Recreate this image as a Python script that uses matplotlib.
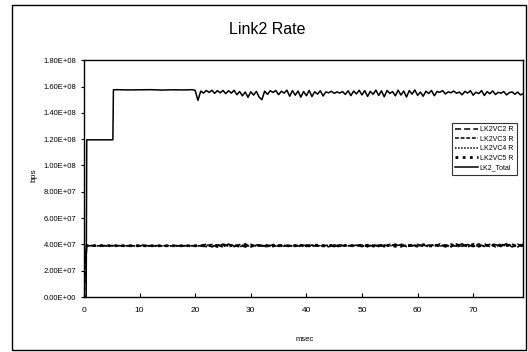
import numpy as np
import matplotlib
matplotlib.use('Agg')
import matplotlib.pyplot as plt
from matplotlib.patches import Rectangle

plt.rcParams['font.family'] = ['Liberation Sans', 'DejaVu Sans']

# ---- data (Mbps) ----
# LK2_Total, start-up part
tot_t_early = [0, 0.4, 0.5, 5.2, 5.3, 6, 8, 10, 12, 14, 16, 18, 19.5]
tot_v_early = [0, 0, 119.5, 119.5, 157.5, 157.6, 157.4, 157.5, 157.6, 157.3,
               157.5, 157.4, 157.6]
# LK2_Total, 20..79 msec every 0.5 msec
tot_t_noisy = np.arange(20.0, 79.01, 0.5)
tot_v_noisy = [
    157.0, 149.5, 156.5, 155.0, 157.0, 155.5, 157.2, 154.8, 156.9, 155.2,
    157.0, 154.6, 156.8, 155.0, 157.1, 153.8, 156.2, 152.9, 155.8, 151.8,
    156.0, 153.5, 156.3, 152.0, 150.0, 156.5, 154.0, 156.8, 155.5, 157.0,
    153.8, 156.4, 155.0, 157.2, 152.6, 156.9, 153.4, 156.6, 151.9, 156.2,
    153.0, 157.0, 152.4, 156.0, 154.2, 156.8, 152.8, 155.9, 155.2, 156.4,
    154.8, 155.9, 155.0, 156.2, 154.0, 156.8, 153.1, 156.5, 154.4, 157.1,
    153.6, 156.9, 152.5, 156.3, 154.1, 157.3, 153.2, 156.7, 152.2, 157.0,
    154.8, 156.1, 152.9, 157.2, 153.5, 156.6, 152.0, 156.9, 154.2, 157.4,
    153.3, 155.8, 152.6, 156.4, 154.7, 157.0, 153.0, 156.2, 155.6, 156.9,
    154.3, 156.0, 155.2, 156.6, 154.9, 155.8, 153.7, 156.3, 155.0, 156.8,
    153.4, 155.7, 154.6, 156.9, 153.2, 156.1, 154.5, 156.7, 153.9, 155.6,
    154.9, 156.2, 153.6, 155.4, 155.9, 154.1, 155.8, 153.6, 154.6,
]

# per-VC rates
vc_t_early = [0, 0.2, 0.5, 10.2, 10.5, 10.8, 20.0, 20.3, 20.6, 21.0]
vc2_early = [0, 26.0, 39.2, 39.1, 39.1, 39.1, 39.1, 39.1, 39.1, 39.2]
vc3_early = [0, 22.0, 39.0, 38.9, 39.9, 38.9, 38.9, 39.6, 38.9, 39.0]
vc4_early = [0, 18.0, 38.9, 39.0, 39.0, 39.0, 39.0, 39.0, 39.0, 38.9]
vc5_early = [0, 30.0, 39.1, 39.0, 39.0, 39.0, 39.0, 39.0, 39.0, 39.1]
vc_t_noisy = np.arange(22, 80)
vc2_noisy = [
    40.2, 38.1, 39.8, 37.9, 40.4, 38.3, 39.6, 38.0, 40.1, 38.6,
    39.4, 38.2, 39.9, 38.5, 39.2, 38.8, 39.5, 38.4, 39.7, 38.6,
    39.3, 38.7, 39.6, 38.3, 39.8, 38.5, 39.4, 38.9, 39.7, 38.2,
    40.0, 38.4, 39.5, 38.6, 40.3, 38.1, 39.9, 38.7, 40.2, 38.3,
    39.6, 38.5, 40.4, 38.2, 39.8, 38.6, 40.5, 38.0, 40.1, 38.4,
    40.6, 38.2, 39.9, 38.5, 40.7, 38.1, 40.2, 38.6]
vc3_noisy = [
    38.3, 40.0, 38.2, 40.3, 38.5, 39.9, 38.1, 40.2, 38.4, 39.7,
    38.6, 39.5, 38.3, 39.6, 38.7, 39.3, 38.5, 39.8, 38.4, 39.4,
    38.8, 39.6, 38.2, 39.7, 38.6, 39.2, 38.9, 39.5, 38.3, 39.9,
    38.5, 39.6, 38.2, 40.1, 38.7, 39.8, 38.4, 40.0, 38.6, 39.7,
    38.3, 40.2, 38.5, 39.9, 38.1, 40.4, 38.6, 40.0, 38.3, 40.5,
    38.4, 40.1, 38.2, 40.6, 38.5, 40.3, 38.1, 40.4]
vc4_noisy = [
    39.6, 38.7, 40.1, 38.4, 39.3, 38.9, 40.0, 38.5, 39.1, 39.2,
    38.8, 39.6, 38.9, 39.0, 39.4, 38.6, 39.2, 39.0, 38.9, 39.5,
    38.7, 39.1, 39.3, 38.8, 39.0, 39.4, 38.6, 39.3, 39.0, 38.8,
    39.5, 38.7, 39.4, 38.9, 39.2, 39.6, 38.5, 39.3, 38.8, 39.7,
    38.6, 39.4, 38.9, 39.8, 38.4, 39.5, 38.7, 39.9, 38.5, 39.6,
    38.8, 40.0, 38.3, 39.7, 38.9, 40.1, 38.4, 39.8]
vc5_noisy = [
    38.9, 39.5, 38.6, 39.8, 38.8, 39.4, 38.7, 39.9, 38.6, 39.5,
    39.0, 38.8, 39.4, 38.9, 39.6, 38.7, 39.1, 39.3, 38.8, 39.2,
    39.4, 38.9, 39.0, 39.5, 38.7, 39.3, 39.1, 38.8, 39.6, 39.0,
    38.8, 39.5, 38.9, 39.4, 38.6, 39.7, 38.9, 39.5, 38.7, 39.8,
    39.0, 38.7, 39.6, 38.8, 39.9, 38.6, 39.7, 38.9, 40.0, 38.7,
    39.8, 38.6, 40.1, 38.9, 39.7, 38.5, 40.0, 38.8]

series_names = ['LK2VC2 R', 'LK2VC3 R', 'LK2VC4 R', 'LK2VC5 R', 'LK2_Total']
y_ticks = [0, 2e7, 4e7, 6e7, 8e7, 1e8, 1.2e8, 1.4e8, 1.6e8, 1.8e8]
y_ticklabels = ['0.00E+00', '2.00E+07', '4.00E+07', '6.00E+07', '8.00E+07',
                '1.00E+08', '1.20E+08', '1.40E+08', '1.60E+08', '1.80E+08']
x_ticks = [0, 10, 20, 30, 40, 50, 60, 70]

MB = 1e6

fig = plt.figure(figsize=(5.28, 3.52), dpi=100)
ax = fig.add_axes((0.159, 0.156, 0.832, 0.673))

styles = [dict(ls=(0, (4, 2)), lw=1.1),
          dict(ls=(0, (2.5, 1.2)), lw=1.1),
          dict(ls=(0, (1, 1)), lw=1.1),
          dict(ls=(0, (1, 1.6)), lw=2.0),
          dict(ls='-', lw=1.1)]

vc_early = [vc2_early, vc3_early, vc4_early, vc5_early]
vc_noisy = [vc2_noisy, vc3_noisy, vc4_noisy, vc5_noisy]
for name, early, noisy, st in zip(series_names[:4], vc_early, vc_noisy, styles[:4]):
    t = np.concatenate([vc_t_early, vc_t_noisy])
    v = np.concatenate([early, noisy]) * MB
    ax.plot(t, v, color='black', label=name, **st)

t = np.concatenate([tot_t_early, tot_t_noisy])
v = np.concatenate([tot_v_early, tot_v_noisy]) * MB
ax.plot(t, v, color='black', label=series_names[4], **styles[4])

ax.set_xlim(0, 79)
ax.set_ylim(0, 1.8e8)
ax.set_xticks(x_ticks)
ax.set_yticks(y_ticks)
ax.set_yticklabels(y_ticklabels)
ax.tick_params(axis='x', direction='in', length=3, labelsize=6, pad=7)
ax.tick_params(axis='y', direction='out', length=2.5, labelsize=5.5, pad=3)
for sp in ax.spines.values():
    sp.set_linewidth(1.0)

ax.set_xlabel('msec', fontsize=5.5)
ax.xaxis.set_label_coords(0.503, -0.165)
ax.set_ylabel('bps', fontsize=6)
ax.yaxis.set_label_coords(-0.105, 0.515)

leg = ax.legend(loc='upper right', bbox_to_anchor=(0.993, 0.75), fontsize=5,
                frameon=True, fancybox=False, edgecolor='black',
                handlelength=3.2, borderpad=0.5, labelspacing=0.35,
                handletextpad=0.3)
leg.get_frame().set_linewidth(0.8)

fig.text(0.506, 0.915, 'Link2 Rate', ha='center', va='center', fontsize=11.5)

# outer chart frame
fig.patches.append(Rectangle((0.023, 0.006), 0.973, 0.98, transform=fig.transFigure,
                             fill=False, lw=1.0, edgecolor='black'))

fig.savefig('out.png', dpi=100)
